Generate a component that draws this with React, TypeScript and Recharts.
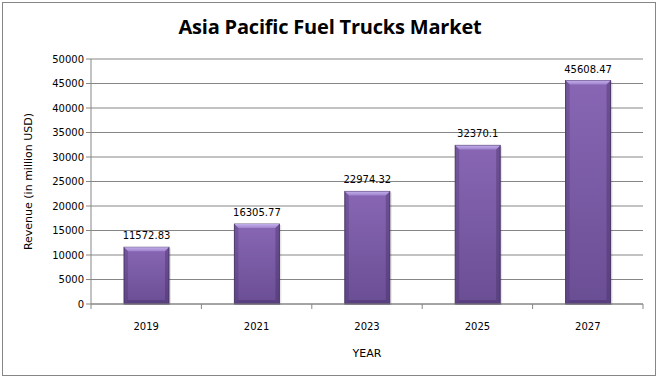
import { BarChart, Bar, XAxis, YAxis, CartesianGrid, LabelList, Label } from 'recharts';

// Chart data
const years = ['2019', '2021', '2023', '2025', '2027'];
const revenue = [11572.83, 16305.77, 22974.32, 32370.1, 45608.47];
const revenueLabels = ['11572.83', '16305.77', '22974.32', '32370.1', '45608.47'];
const yTicks = [0, 5000, 10000, 15000, 20000, 25000, 30000, 35000, 40000, 45000, 50000];

const data = years.map((year, i) => ({ year, value: revenue[i], label: revenueLabels[i] }));

const W = 660;
const H = 379;
const tickFont = 'Tahoma, "DejaVu Sans", sans-serif';

// Bar with a bevelled, glossy look
const BevelBar = (props: any) => {
  const { x, y, width, height } = props;
  if (!height || height <= 0) return null;
  const b = 4;
  return (
    <g>
      <rect x={x + 1} y={y + 1} width={width + 1} height={height} fill="rgba(0,0,0,0.1)" />
      <rect x={x} y={y} width={width} height={height} fill="url(#barBody)" stroke="#4e3a6b" strokeWidth={1} />
      <polygon
        points={`${x},${y} ${x + width},${y} ${x + width - b},${y + b} ${x + b},${y + b}`}
        fill="url(#barTop)"
      />
      <polygon
        points={`${x},${y} ${x + b},${y + b} ${x + b},${y + height - b} ${x},${y + height}`}
        fill="rgba(60,40,90,0.25)"
      />
      <polygon
        points={`${x + width},${y} ${x + width - b},${y + b} ${x + width - b},${y + height - b} ${x + width},${y + height}`}
        fill="rgba(60,40,90,0.35)"
      />
      <polygon
        points={`${x},${y + height} ${x + b},${y + height - b} ${x + width - b},${y + height - b} ${x + width},${y + height}`}
        fill="rgba(50,30,80,0.3)"
      />
    </g>
  );
};

// Category tick: label plus tick marks at category boundaries
const YearTick = (props: any) => {
  const { x, payload, index, visibleTicksCount } = props;
  const band = 552 / years.length;
  const axisY = 304;
  return (
    <g>
      <line x1={x - band / 2} y1={axisY} x2={x - band / 2} y2={axisY + 5} stroke="#868686" />
      {index === visibleTicksCount - 1 && (
        <line x1={x + band / 2} y1={axisY} x2={x + band / 2} y2={axisY + 5} stroke="#868686" />
      )}
      <text x={x} y={axisY + 26} textAnchor="middle" fontSize={10} fontFamily={tickFont} fill="#000">
        {payload.value}
      </text>
    </g>
  );
};

export default function App() {
  return (
    <div style={{ position: 'absolute', left: 0, top: 0, width: W, height: H, background: '#fff' }}>
      <div
        style={{
          position: 'absolute',
          left: 2,
          top: 2,
          width: W - 6,
          height: H - 5,
          border: '1px solid #868686',
          boxSizing: 'border-box',
        }}
      />
      <div
        style={{
          position: 'absolute',
          left: 0,
          top: 13,
          width: W,
          textAlign: 'center',
          fontFamily: '"Open Sans", "Liberation Sans", sans-serif',
          fontWeight: 700,
          fontSize: 20,
          letterSpacing: -0.2,
          color: '#000',
        }}
      >
        Asia Pacific Fuel Trucks Market
      </div>
      <div style={{ position: 'absolute', left: 0, top: 0 }}>
        <BarChart width={W} height={H} data={data} margin={{ top: 59, right: 17, bottom: 0, left: 0 }}>
          <defs>
            <linearGradient id="barBody" x1="0" y1="0" x2="0" y2="1">
              <stop offset="0%" stopColor="#8866b4" />
              <stop offset="100%" stopColor="#6a4e94" />
            </linearGradient>
            <linearGradient id="barTop" x1="0" y1="0" x2="0" y2="1">
              <stop offset="0%" stopColor="#c2aeea" />
              <stop offset="100%" stopColor="#9f83cc" />
            </linearGradient>
          </defs>
          <CartesianGrid vertical={false} stroke="#868686" />
          <XAxis
            dataKey="year"
            axisLine={{ stroke: '#868686' }}
            tickLine={false}
            tick={<YearTick />}
            height={75}
            interval={0}
          >
            <Label
              value="YEAR"
              position="insideBottom"
              offset={22}
              style={{ fontSize: 11, fontFamily: tickFont, fill: '#000' }}
            />
          </XAxis>
          <YAxis
            domain={[0, 50000]}
            ticks={yTicks}
            interval={0}
            width={91}
            axisLine={{ stroke: '#868686' }}
            tickLine={{ stroke: '#868686' }}
            tickSize={5}
            tick={{ fontSize: 10, fontFamily: tickFont, fill: '#000' }}
          >
            <Label
              value="Revenue (in million USD)"
              angle={-90}
              position="insideLeft"
              offset={28}
              style={{ fontSize: 11, fontFamily: tickFont, fill: '#000', textAnchor: 'middle' }}
            />
          </YAxis>
          <Bar dataKey="value" barSize={45} shape={<BevelBar />} isAnimationActive={false}>
            <LabelList
              dataKey="label"
              position="top"
              offset={8}
              style={{ fontSize: 10, fontFamily: tickFont, fill: '#000' }}
            />
          </Bar>
        </BarChart>
      </div>
    </div>
  );
}
